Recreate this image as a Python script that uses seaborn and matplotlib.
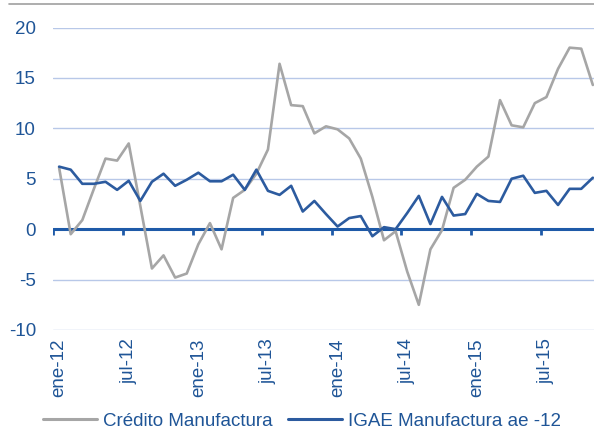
import numpy as np
import pandas as pd
import matplotlib
matplotlib.use("Agg")
import matplotlib.pyplot as plt
from matplotlib.lines import Line2D
import seaborn as sns

months = ["ene", "feb", "mar", "abr", "may", "jun", "jul", "ago", "sep", "oct", "nov", "dic"]
periods = [f"{m}-{y}" for y in ["12", "13", "14", "15"] for m in months][:47]

credito = [6.1, -0.5, 0.9, 4.0, 7.0, 6.8, 8.5, 2.3, -3.9, -2.6, -4.8, -4.4,
           -1.5, 0.6, -2.0, 3.1, 3.9, 5.5, 7.9, 16.4, 12.3, 12.2, 9.5, 10.2,
           9.9, 9.0, 7.0, 3.2, -1.1, -0.2, -4.2, -7.5, -2.0, -0.1, 4.1, 4.9,
           6.2, 7.2, 12.8, 10.3, 10.1, 12.5, 13.1, 15.9, 18.0, 17.9, 14.3]
igae = [6.2, 5.9, 4.5, 4.5, 4.7, 3.9, 4.8, 2.8, 4.7, 5.5, 4.3, 4.9,
        5.6, 4.75, 4.75, 5.4, 3.9, 5.9, 3.8, 3.4, 4.3, 1.75, 2.8, 1.5,
        0.26, 1.1, 1.3, -0.7, 0.2, 0.0, 1.6, 3.3, 0.5, 3.2, 1.35, 1.5,
        3.5, 2.8, 2.7, 5.0, 5.3, 3.6, 3.8, 2.4, 4.0, 4.0, 5.1]

series_names = ["Crédito Manufactura", "IGAE Manufactura ae -12"]
colors = ["#A6A6A6", "#2C5B9F"]
tick_labels = ["ene-12", "jul-12", "ene-13", "jul-13", "ene-14", "jul-14", "ene-15", "jul-15"]
yticks = [-10, -5, 0, 5, 10, 15, 20]

df = pd.DataFrame({
    "idx": list(range(len(periods))) * 2,
    "value": credito + igae,
    "serie": [series_names[0]] * len(credito) + [series_names[1]] * len(igae),
})

sns.set_theme(style="white")
plt.rcParams["font.family"] = ["Liberation Sans", "DejaVu Sans"]

fig = plt.figure(figsize=(5.94, 4.30), dpi=100)
ax = fig.add_axes([53.3 / 594, 1 - 330 / 430, 1 - 53.3 / 594, (330 - 27.5) / 430])

label_color = "#1F5597"
fs = 13.5
for y in yticks:
    if y != 0:
        ax.axhline(y, color="#B8C8E8", lw=1.0, zorder=0)

sns.lineplot(data=df, x="idx", y="value", hue="serie", hue_order=series_names,
             palette=colors, linewidth=1.9, ax=ax, legend=False, zorder=3)
ax.lines[-1].set_zorder(4)

ax.axhline(0, color="#1E5AA8", lw=2.2, zorder=2)
bounds = [i - 0.5 for i in range(0, len(periods) + 1, 6)]
ax.vlines(bounds, -0.55, 0, color="#1E5AA8", lw=2.0, zorder=2)

ax.set_xlim(-0.5, 46.1)
ax.set_ylim(-10, 20)
ax.set_yticks(yticks)
ax.set_yticklabels([str(v) for v in yticks], color=label_color, fontsize=fs)
ax.set_xticks(list(range(0, 48, 6)))
ax.set_xticklabels(tick_labels, rotation=90, color=label_color, fontsize=fs)
ax.tick_params(axis="y", length=0, pad=12.5)
ax.tick_params(axis="x", length=0, pad=6)
ax.set_xlabel("")
ax.set_ylabel("")
for s in ax.spines.values():
    s.set_visible(False)

fig.add_artist(Line2D([9 / 594, 1], [1 - 4 / 430, 1 - 4 / 430], color="#A0A0A0", lw=1.2))

handles = [Line2D([], [], color=c, lw=2.2) for c in colors]
leg = fig.legend(handles, series_names, loc="center", bbox_to_anchor=(302 / 594, 1 - 421 / 430),
                 ncol=2, frameon=False, fontsize=fs, handlelength=2.85, handletextpad=0.33,
                 columnspacing=0.85, borderaxespad=0, borderpad=0)
for t in leg.get_texts():
    t.set_color(label_color)

fig.savefig("out.png", dpi=100)
